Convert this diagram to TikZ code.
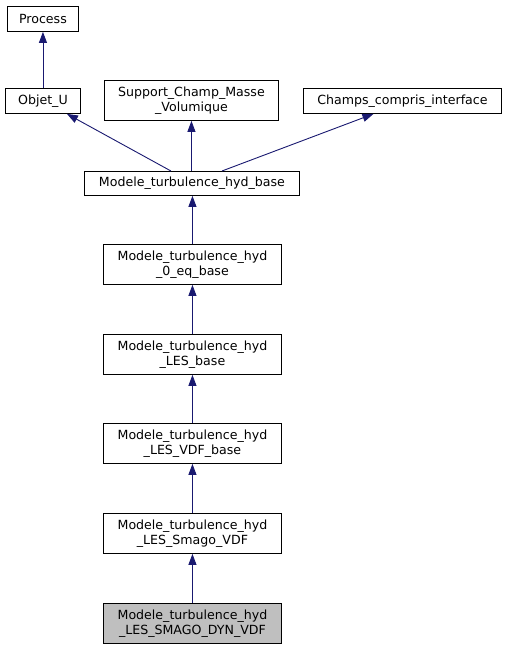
\documentclass[tikz,border=0pt]{standalone}
\usepackage{fontspec}
\setmainfont{DejaVu Sans}
\usetikzlibrary{arrows.meta}
\definecolor{edgeblue}{HTML}{191970}
\definecolor{hl}{HTML}{BFBFBF}
\begin{document}
\begin{tikzpicture}[x=1pt,y=-1pt,
  box/.style={draw=black,line width=0.9pt,inner sep=0pt,font=\fontsize{12.6}{15}\selectfont,align=center,anchor=north west},
  inh/.style={draw=edgeblue,line width=0.9pt,-{Triangle[length=11pt,width=8pt,fill=edgeblue]}}]
\useasboundingbox (0,0) rectangle (507,648);
\node[box,minimum width=71pt,minimum height=25pt] (proc) at (7,6) {Process};
\node[box,minimum width=75pt,minimum height=25pt] (obj) at (5,88) {Objet\_U};
\node[box,minimum width=174pt,minimum height=40pt] (supp) at (104,80) {Support\_Champ\_Masse\\\_Volumique};
\node[box,minimum width=198pt,minimum height=25pt] (champ) at (303,88) {Champs\_compris\_interface};
\node[box,minimum width=215pt,minimum height=24pt] (base) at (84,171) {Modele\_turbulence\_hyd\_base};
\node[box,minimum width=178pt,minimum height=40pt] (zero) at (103,244) {Modele\_turbulence\_hyd\\\_0\_eq\_base};
\node[box,minimum width=178pt,minimum height=40pt] (les) at (103,334) {Modele\_turbulence\_hyd\\\_LES\_base};
\node[box,minimum width=178pt,minimum height=40pt] (vdf) at (103,423) {Modele\_turbulence\_hyd\\\_LES\_VDF\_base};
\node[box,minimum width=178pt,minimum height=40pt] (smago) at (103,513) {Modele\_turbulence\_hyd\\\_LES\_Smago\_VDF};
\node[box,minimum width=178pt,minimum height=40pt,fill=hl] (dyn) at (103,603) {Modele\_turbulence\_hyd\\\_LES\_SMAGO\_DYN\_VDF};
\draw[inh] (obj.north -| proc.south) -- (proc.south);
\draw[inh] ([xshift=-21pt]base.north) -- ([xshift=24pt]obj.south);
\draw[inh] (supp.south |- base.north) -- (supp.south);
\draw[inh] ([xshift=30pt]base.north) -- ([xshift=-29pt]champ.south);
\draw[inh] (zero.north) -- (zero.north |- base.south);
\draw[inh] (les.north) -- (zero.south);
\draw[inh] (vdf.north) -- (les.south);
\draw[inh] (smago.north) -- (vdf.south);
\draw[inh] (dyn.north) -- (smago.south);
\end{tikzpicture}
\end{document}
